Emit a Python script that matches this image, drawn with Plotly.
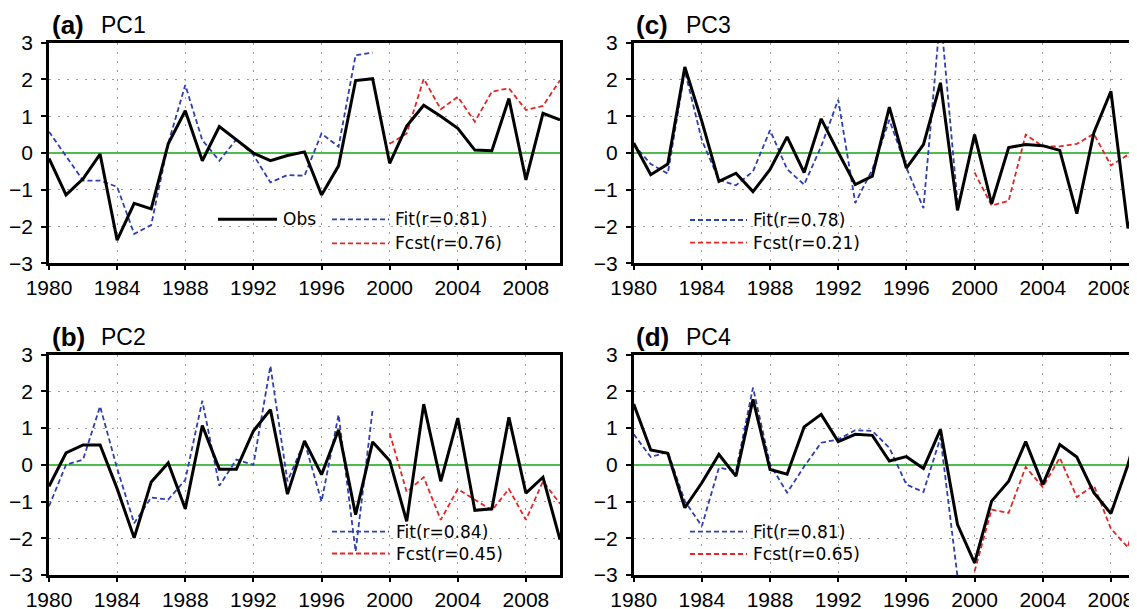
import plotly.graph_objects as go

W, H = 1137, 609
OFF = 8  # page body margin in the browser

years = list(range(1980, 2011))
fit_years = list(range(1980, 2000))
fcst_years = list(range(2000, 2011))

obs1 = [-0.15, -1.14, -0.7, -0.03, -2.37, -1.37, -1.52, 0.25, 1.15, -0.21, 0.72,
        0.37, 0.0, -0.21, -0.07, 0.03, -1.14, -0.35, 1.97, 2.02, -0.28,
        0.73, 1.3, 1.0, 0.67, 0.08, 0.06, 1.48, -0.73, 1.08, 0.9]
fit1 = [0.58, -0.1, -0.75, -0.75, -0.92, -2.2, -1.96, 0.26, 1.85, 0.35,
        -0.21, 0.37, -0.05, -0.8, -0.6, -0.62, 0.53, 0.17, 2.66, 2.73]
fcst1 = [0.25, 0.53, 2.02, 1.19, 1.53, 0.85, 1.67, 1.76, 1.17, 1.28, 1.98]

obs2 = [-0.59, 0.32, 0.54, 0.54, -0.65, -1.99, -0.47, 0.05, -1.2, 1.07, -0.12,
        -0.12, 0.92, 1.5, -0.8, 0.65, -0.27, 0.95, -1.36, 0.62, 0.11,
        -1.54, 1.65, -0.45, 1.27, -1.24, -1.2, 1.29, -0.77, -0.34, -2.04]
fit2 = [-1.13, 0.0, 0.14, 1.59, -0.1, -1.59, -0.89, -0.95, -0.41, 1.74,
        -0.57, 0.14, 0.0, 2.69, -0.45, 0.63, -1.0, 1.36, -2.36, 1.5]
fcst2 = [0.86, -0.74, -0.34, -1.5, -0.66, -0.95, -1.24, -0.66, -1.5, -0.45, -1.06]

obs3 = [0.27, -0.59, -0.3, 2.34, 0.86, -0.77, -0.55, -1.05, -0.45, 0.44, -0.53,
        0.93, 0.02, -0.86, -0.63, 1.25, -0.41, 0.23, 1.91, -1.56, 0.5,
        -1.38, 0.15, 0.23, 0.2, 0.07, -1.65, 0.55, 1.68, -2.05, -0.8]
fit3 = [0.23, -0.3, -0.56, 2.23, 0.35, -0.73, -0.88, -0.5, 0.62, -0.44,
        -0.86, 0.18, 1.45, -1.36, -0.45, 0.9, -0.4, -1.5, 3.8, -1.36]
fcst3 = [-0.53, -1.43, -1.3, 0.5, 0.18, 0.18, 0.25, 0.52, -0.34, -0.05, -0.7]

obs4 = [1.65, 0.4, 0.31, -1.17, -0.49, 0.28, -0.31, 1.78, -0.13, -0.26, 1.03,
        1.37, 0.63, 0.83, 0.8, 0.1, 0.22, -0.1, 0.96, -1.63, -2.67,
        -0.99, -0.45, 0.63, -0.54, 0.55, 0.21, -0.76, -1.33, 0.0, 1.7]
fit4 = [0.83, 0.21, 0.35, -0.99, -1.67, -0.08, -0.17, 2.1, 0.01, -0.76,
        -0.05, 0.6, 0.69, 0.94, 0.92, 0.46, -0.54, -0.74, 0.74, -3.05]
fcst4 = [-2.9, -1.22, -1.31, -0.06, -0.61, 0.19, -0.88, -0.56, -1.74, -2.25, -0.3]

panel_letters = ["(a)", "(b)", "(c)", "(d)"]
panel_names = ["PC1", "PC2", "PC3", "PC4"]
fit_labels = ["Fit(r=0.81)", "Fit(r=0.84)", "Fit(r=0.78)", "Fit(r=0.81)"]
fcst_labels = ["Fcst(r=0.76)", "Fcst(r=0.45)", "Fcst(r=0.21)", "Fcst(r=0.65)"]
obs_label = "Obs"
x_ticks = list(range(1980, 2010, 4))
y_ticks = [-3, -2, -1, 0, 1, 2, 3]

OBS_C = "#000000"
FIT_C = "#2f3fae"
FCST_C = "#e32626"
GREEN = "#4dbd4d"
DASH = "5px,3px"

def px_x(p):
    return (p - OFF) / W

def px_y(p):
    return 1 - (p - OFF) / H

# panel geometry in screen pixels: left, right, top, bottom
panels = [
    (49, 560, 42.7, 263.3),
    (49, 560, 354.5, 575.0),
    (633.7, W + OFF, 42.7, 263.3),
    (633.7, W + OFF, 354.5, 575.0),
]
# legend placement in screen pixels: sample x0, x1, text x, row1 y, row2 y
legend_pos = [
    (332, 389, 393, 219.3, 243.3),
    (332, 389, 394, 531.7, 553.5),
    (690, 747, 751, 220.0, 242.7),
    (690, 747, 751, 531.7, 554.0),
]
data = [(obs1, fit1, fcst1), (obs2, fit2, fcst2), (obs3, fit3, fcst3), (obs4, fit4, fcst4)]

fig = go.Figure()
layout = dict(
    width=W, height=H, margin=dict(l=0, r=0, t=0, b=0, pad=0, autoexpand=False),
    autosize=False,
    paper_bgcolor="white", plot_bgcolor="white", showlegend=False,
    font=dict(family="Liberation Sans, Arial, sans-serif", size=21, color="black"),
)
annotations = []
shapes = []
legend_font = dict(size=17, family="DejaVu Sans, sans-serif", color="black")

for i, ((l, r, t, b), (obs, fit, fcst)) in enumerate(zip(panels, data)):
    n = "" if i == 0 else str(i + 1)
    xa, ya = "x" + n, "y" + n
    fig.add_trace(go.Scatter(x=fit_years, y=fit, mode="lines", xaxis=xa, yaxis=ya,
                             line=dict(color=FIT_C, width=1.8, dash=DASH)))
    fig.add_trace(go.Scatter(x=fcst_years, y=fcst, mode="lines", xaxis=xa, yaxis=ya,
                             line=dict(color=FCST_C, width=1.8, dash=DASH)))
    fig.add_trace(go.Scatter(x=years, y=obs, mode="lines", xaxis=xa, yaxis=ya,
                             line=dict(color=OBS_C, width=3)))
    layout["xaxis" + n] = dict(
        domain=[px_x(l), min(1.0, px_x(r))], range=[1980, 2010], anchor=ya,
        tickvals=x_ticks, ticktext=[str(v) for v in x_ticks],
        showline=True, linecolor="black", linewidth=2.7, mirror=True,
        ticks="outside", ticklen=4, tickwidth=1.5, tickcolor="black",
        showgrid=True, gridcolor="#9a9a9a", gridwidth=1.3, griddash="2px,7px",
        zeroline=False, ticklabelstandoff=0, automargin=False,
    )
    layout["yaxis" + n] = dict(
        domain=[px_y(b), px_y(t)], range=[-3, 3], anchor=xa,
        tickvals=y_ticks,
        showline=True, linecolor="black", linewidth=2.7, mirror=True,
        ticks="outside", ticklen=5, tickwidth=1.5, tickcolor="black",
        showgrid=True, gridcolor="#9a9a9a", gridwidth=1.3, griddash="2px,7px",
        zeroline=True, zerolinecolor=GREEN, zerolinewidth=1.8,
        ticklabelstandoff=4, automargin=False,
    )
    ty = 25 if i in (0, 2) else 337
    annotations.append(dict(x=px_x(l + 0.5), y=px_y(ty), xref="paper", yref="paper",
                            xanchor="left", yanchor="middle", showarrow=False,
                            text="<b>" + panel_letters[i] + "</b>",
                            font=dict(size=26, family="Liberation Sans, Arial, sans-serif")))
    annotations.append(dict(x=px_x(l + 50), y=px_y(ty), xref="paper", yref="paper",
                            xanchor="left", yanchor="middle", showarrow=False,
                            text=panel_names[i],
                            font=dict(size=23, family="Liberation Sans, Arial, sans-serif")))
    sx0, sx1, tx, ly1, ly2 = legend_pos[i]
    shapes.append(dict(type="line", xref="paper", yref="paper", x0=px_x(sx0), x1=px_x(sx1),
                       y0=px_y(ly1), y1=px_y(ly1), line=dict(color=FIT_C, width=1.8, dash=DASH)))
    shapes.append(dict(type="line", xref="paper", yref="paper", x0=px_x(sx0), x1=px_x(sx1),
                       y0=px_y(ly2), y1=px_y(ly2), line=dict(color=FCST_C, width=1.8, dash=DASH)))
    annotations.append(dict(x=px_x(tx), y=px_y(ly1), xref="paper", yref="paper",
                            xanchor="left", yanchor="middle", showarrow=False,
                            text=fit_labels[i], font=legend_font))
    annotations.append(dict(x=px_x(tx), y=px_y(ly2), xref="paper", yref="paper",
                            xanchor="left", yanchor="middle", showarrow=False,
                            text=fcst_labels[i], font=legend_font))
    if i == 0:
        shapes.append(dict(type="line", xref="paper", yref="paper", x0=px_x(218), x1=px_x(277),
                           y0=px_y(ly1), y1=px_y(ly1), line=dict(color=OBS_C, width=3)))
        annotations.append(dict(x=px_x(281), y=px_y(ly1), xref="paper", yref="paper",
                                xanchor="left", yanchor="middle", showarrow=False,
                                text=obs_label, font=legend_font))

layout["annotations"] = annotations
layout["shapes"] = shapes
fig.update_layout(**layout)
fig.write_html("out.html")
